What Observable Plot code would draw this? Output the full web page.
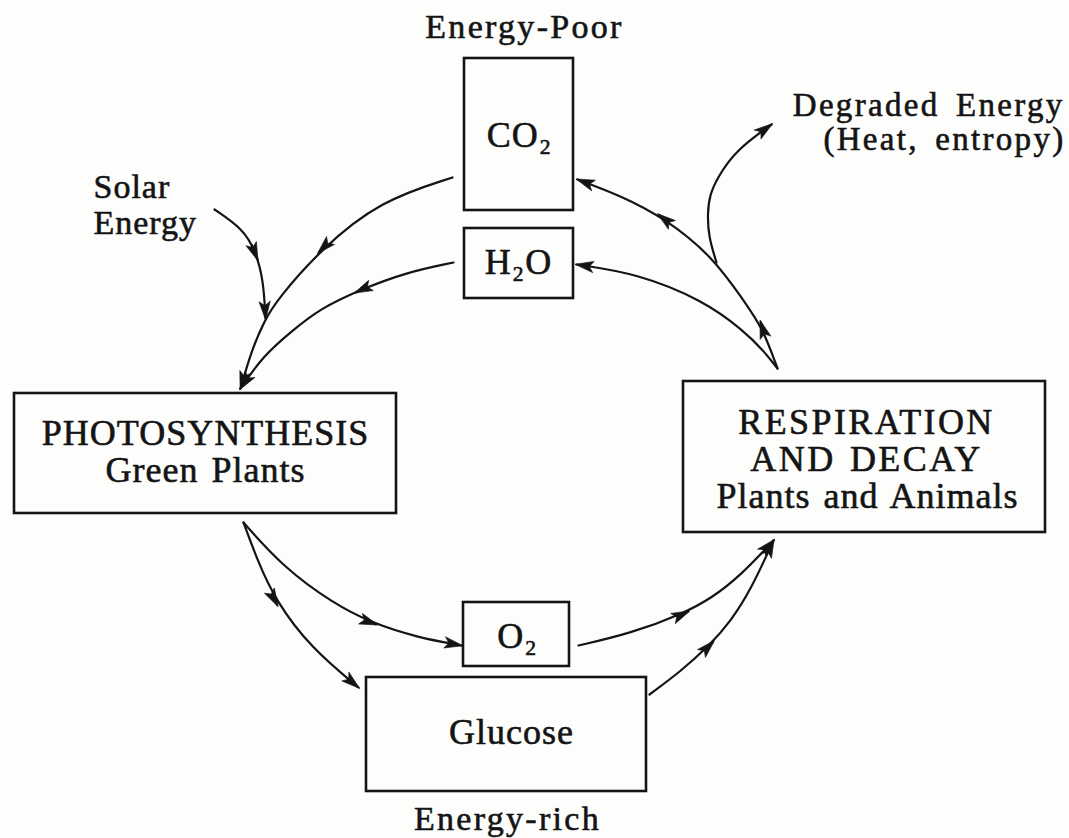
<!DOCTYPE html>
<html>
<head>
<meta charset="utf-8">
<script src="https://cdn.jsdelivr.net/npm/d3@7"></script>
<script src="https://cdn.jsdelivr.net/npm/@observablehq/plot@0.6"></script>
<style>
html, body { margin: 0; padding: 0; background: #fdfdfc; }
#chart svg { display: block; }
#chart svg text { letter-spacing: 1px; word-spacing: 3px; }
</style>
</head>
<body>
<div id="chart"></div>
<script>
// ---- Boxes (diagram coordinates, px in a 1069 x 838 frame) ----
const boxes = [
  {name: "CO2",      x1: 464, x2: 573,  y1: 58,  y2: 210},
  {name: "H2O",      x1: 464, x2: 573,  y1: 228, y2: 298},
  {name: "Photo",    x1: 14,  x2: 396,  y1: 393, y2: 513},
  {name: "Resp",     x1: 683, x2: 1045, y1: 381, y2: 532},
  {name: "O2",       x1: 463, x2: 569,  y1: 602, y2: 666},
  {name: "Glucose",  x1: 366, x2: 646,  y1: 677, y2: 791}
];

// ---- Labels (x, baseline y) ----
const boxLabels = [
  {text: "CO\u2082",           x: 519, y: 146},
  {text: "H\u2082O",           x: 518, y: 273},
  {text: "PHOTOSYNTHESIS",     x: 205, y: 444},
  {text: "Green Plants",       x: 205, y: 481},
  {text: "RESPIRATION",        x: 866, y: 433},
  {text: "AND DECAY",          x: 866, y: 470},
  {text: "Plants and Animals", x: 867, y: 507},
  {text: "O\u2082",            x: 517, y: 647},
  {text: "Glucose",            x: 511, y: 743}
];
const energyLabels = [
  {text: "Energy-Poor", x: 524, y: 37},
  {text: "Energy-rich", x: 507, y: 829}
];
const leftLabels = [
  {text: "Solar",  x: 93, y: 197},
  {text: "Energy", x: 93, y: 233}
];
const rightLabels = [
  {text: "Degraded Energy",  x: 1064, y: 115},
  {text: "(Heat, entropy)",  x: 1065, y: 149}
];
const wideCaps = ["RESPIRATION", "AND DECAY"];
const wideText = ["Degraded Energy", "(Heat, entropy)", "Energy-Poor", "Energy-rich"];

// ---- Flow curves ----
const solarPath      = [[214,209],[242,228],[255,250],[263,280],[265,318]];
const co2ToPhoto     = [[452,177],[380,200],[320,249],[276,300],[264,320],[251,350],[240,388]];
const h2oToPhoto     = [[453,262],[405,272],[358,290],[320,308],[292,330],[262,356],[240,388]];
const photoToO2      = [[243,522],[283,567],[333,603],[370,622],[417,637],[461,645]];
const photoToGlucose = [[243,522],[257,560],[275,600],[310,647],[358,687]];
const o2ToResp       = [[578,645],[630,633],[683,613],[712,597],[740,575],[773,540]];
const glucoseToResp  = [[649,694],[680,671],[709,645],[730,621],[750,590],[773,540]];
const respToCO2      = [[777,368],[762,327],[743,300],[713,257],[665,218],[620,195],[577,179]];
const respToH2O      = [[777,368],[763,350],[743,330],[703,300],[637,273],[576,264]];
const degraded       = [[716,262],[708,236],[707,213],[709,195],[717,177],[735,150],[771,124]];

const curves = {solarPath, co2ToPhoto, h2oToPhoto, photoToO2, photoToGlucose,
                o2ToResp, glucoseToResp, respToCO2, respToH2O, degraded};
const curveRows = Object.entries(curves).flatMap(([id, pts]) =>
  pts.map(([x, y]) => ({id, x, y})));

// ---- Arrowheads placed part-way along curves (tail -> tip) ----
const midArrows = [
  {x1: 251, y1: 244, x2: 257, y2: 259},  // solar
  {x1: 327, y1: 243, x2: 318, y2: 252},  // CO2 -> photosynthesis
  {x1: 366, y1: 287, x2: 355, y2: 292},  // H2O -> photosynthesis
  {x1: 764, y1: 334, x2: 760, y2: 321},  // respiration -> CO2 (lower)
  {x1: 667, y1: 221, x2: 658, y2: 214},  // respiration -> CO2 (upper)
  {x1: 365, y1: 620, x2: 376, y2: 624},  // photosynthesis -> O2
  {x1: 271, y1: 594, x2: 277, y2: 605},  // photosynthesis -> glucose
  {x1: 677, y1: 616, x2: 688, y2: 611},  // O2 -> respiration
  {x1: 704, y1: 650, x2: 713, y2: 641}   // glucose -> respiration
];

const ink = "#141414";
const font = "Liberation Serif, Times New Roman, serif";

function arrowHead(color, context) {
  const doc = (context && context.document) || document;
  const ns = "http://www.w3.org/2000/svg";
  const m = doc.createElementNS(ns, "marker");
  m.setAttribute("viewBox", "-20 -7 22 14");
  m.setAttribute("markerWidth", "22");
  m.setAttribute("markerHeight", "14");
  m.setAttribute("markerUnits", "userSpaceOnUse");
  m.setAttribute("refX", "0");
  m.setAttribute("refY", "0");
  m.setAttribute("orient", "auto");
  m.setAttribute("overflow", "visible");
  const p = doc.createElementNS(ns, "path");
  p.setAttribute("d", "M-17,-5.6L1.5,0L-17,5.6L-13,0Z");
  p.setAttribute("fill", color);
  p.setAttribute("stroke", color);
  p.setAttribute("stroke-width", "0.6");
  p.setAttribute("stroke-linejoin", "miter");
  m.appendChild(p);
  return m;
}

const textOpts = {x: "x", y: "y", text: "text", lineAnchor: "bottom",
                  fontFamily: font, fill: ink, stroke: ink, strokeWidth: 0.6};

const chart = Plot.plot({
  width: 1069,
  height: 838,
  margin: 0,
  style: {background: "#fdfdfc", color: ink},
  x: {domain: [0, 1069], range: [0, 1069], axis: null},
  y: {domain: [0, 838], range: [0, 838], axis: null},
  marks: [
    Plot.rect(boxes, {x1: "x1", x2: "x2", y1: "y1", y2: "y2",
                      fill: "none", stroke: ink, strokeWidth: 2.6}),
    Plot.line(curveRows, {x: "x", y: "y", z: "id", curve: "basis",
                          stroke: ink, strokeWidth: 2.2, markerEnd: arrowHead}),
    Plot.link(midArrows, {x1: "x1", y1: "y1", x2: "x2", y2: "y2",
                          stroke: ink, strokeWidth: 2.2, markerEnd: arrowHead}),
    Plot.text(boxLabels,    {...textOpts, fontSize: 36, textAnchor: "middle"}),
    Plot.text(energyLabels, {...textOpts, fontSize: 34, textAnchor: "middle"}),
    Plot.text(leftLabels,   {...textOpts, fontSize: 34, textAnchor: "start"}),
    Plot.text(rightLabels,  {...textOpts, fontSize: 33, textAnchor: "end"})
  ]
});

d3.select(chart).selectAll("text")
  .filter(function () { return wideCaps.includes(this.textContent); })
  .style("letter-spacing", "2.4px");
d3.select(chart).selectAll("text")
  .filter(function () { return wideText.includes(this.textContent); })
  .style("letter-spacing", "2.3px").style("word-spacing", "6px");

document.getElementById("chart").appendChild(chart);
</script>
</body>
</html>
